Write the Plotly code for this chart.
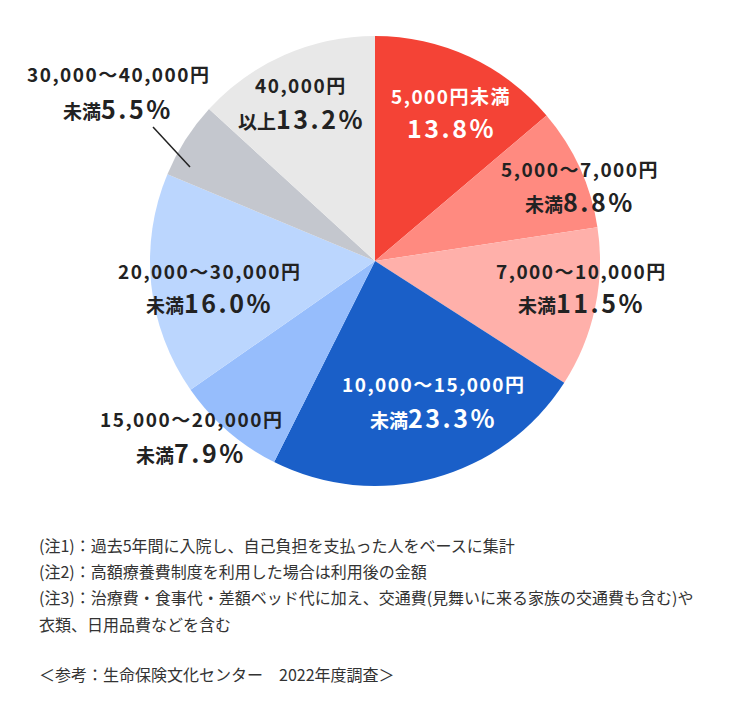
import plotly.graph_objects as go

# ---- data ----
categories = ["5,000円未満", "5,000〜7,000円未満", "7,000〜10,000円未満", "10,000〜15,000円未満",
              "15,000〜20,000円未満", "20,000〜30,000円未満", "30,000〜40,000円未満", "40,000円以上"]
values = [13.8, 8.8, 11.5, 23.3, 7.9, 16.0, 5.5, 13.2]
line1_text = ["5,000円未満", "5,000〜7,000円", "7,000〜10,000円", "10,000〜15,000円",
              "15,000〜20,000円", "20,000〜30,000円", "30,000〜40,000円", "40,000円"]
line2_prefix = ["", "未満", "未満", "未満", "未満", "未満", "未満", "以上"]
notes = [
    "(注1)：過去5年間に入院し、自己負担を支払った人をベースに集計",
    "(注2)：高額療養費制度を利用した場合は利用後の金額",
    "(注3)：治療費・食事代・差額ベッド代に加え、交通費(見舞いに来る家族の交通費も含む)や",
    "衣類、日用品費などを含む",
    "＜参考：生命保険文化センター　2022年度調査＞",
]

# ---- styles ----
colors = ["#f44336", "#ff8a80", "#ffb0aa", "#1a5fc8", "#96bdfc", "#bbd6fe", "#c4c7ce", "#e8e8e8"]
text_colors = ["#ffffff", "#222222", "#222222", "#ffffff", "#222222", "#222222", "#222222", "#222222"]
label_pos = [(451, 95, 127), (580, 168, 201), (581, 270, 302), (434, 383, 417),
             (191, 418, 452), (210, 270, 302), (118, 73, 108), (301, 85, 118)]
note_y = [545, 571, 597, 624, 674]

W, H = 750, 723
OFF = 8  # page body margin
FONT = "Noto Sans CJK JP"

def px(x, y):
    return (x - OFF) / W, 1 - (y - OFF) / H

fig = go.Figure(go.Pie(
    labels=categories, values=values, sort=False, direction="clockwise", rotation=0,
    marker=dict(colors=colors, line=dict(width=0)),
    textinfo="none", hoverinfo="label+percent", showlegend=False,
    domain=dict(x=[(150 - OFF) / W, (600 - OFF) / W], y=[1 - (486 - OFF) / H, 1 - (36 - OFF) / H]),
))

ann = []
for i, v in enumerate(values):
    x, y1, y2 = label_pos[i]
    ax, ay = px(x, y1)
    ann.append(dict(x=ax, y=ay, xref="paper", yref="paper", xanchor="center", yanchor="middle",
                    text=f"<b><span style='letter-spacing:1.5px'>{line1_text[i]}</span></b>", showarrow=False,
                    font=dict(family=FONT, size=19, color=text_colors[i])))
    bx, by = px(x, y2)
    t2 = (f"<b>{line2_prefix[i]}</b>" if line2_prefix[i] else "") + \
        f"<b><span style='font-size:25px;letter-spacing:2.5px'>{v:.1f}%</span></b>"
    ann.append(dict(x=bx, y=by, xref="paper", yref="paper", xanchor="center", yanchor="middle",
                    text=t2, showarrow=False,
                    font=dict(family=FONT, size=19, color=text_colors[i])))

for t, y in zip(notes, note_y):
    nx, ny = px(37, y)
    ann.append(dict(x=nx, y=ny, xref="paper", yref="paper", xanchor="left", yanchor="middle",
                    text=t, showarrow=False, font=dict(family=FONT, size=16, color="#333333")))

# leader line for the small grey slice
lx0, ly0 = px(153, 127)
lx1, ly1 = px(190, 167)
shapes = [dict(type="line", xref="paper", yref="paper", x0=lx0, y0=ly0, x1=lx1, y1=ly1,
               line=dict(color="#222222", width=1.5))]

fig.update_layout(width=W, height=H, margin=dict(l=0, r=0, t=0, b=0),
                  paper_bgcolor="white", plot_bgcolor="white",
                  annotations=ann, shapes=shapes, font=dict(family=FONT))
fig.write_html("out.html")
